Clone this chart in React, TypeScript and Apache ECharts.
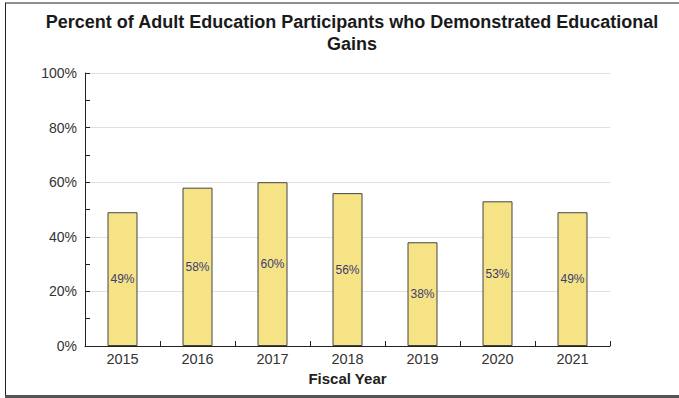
import React, { useEffect, useRef } from "react";
import * as echarts from "echarts";

const years = ["2015", "2016", "2017", "2018", "2019", "2020", "2021"];
const percents = [49, 58, 60, 56, 38, 53, 49];
const yTicks = [0, 20, 40, 60, 80, 100];

export default function App() {
  const ref = useRef<HTMLDivElement>(null);
  useEffect(() => {
    document.body.style.margin = "0";
    const chart = echarts.init(ref.current!, null, { renderer: "svg" });
    const font = "'Liberation Sans', Arial, sans-serif";
    chart.setOption({
      animation: false,
      backgroundColor: "#fff",
      title: {
        text: "Percent of Adult Education Participants who Demonstrated Educational\nGains",
        left: 347,
        textAlign: "center",
        top: 6,
        textStyle: { fontFamily: font, fontSize: 18, fontWeight: "bold", color: "#1a1a1a", lineHeight: 22 },
      },
      graphic: [
        { type: "line", shape: { x1: 5, y1: 3, x2: 679, y2: 3 }, style: { stroke: "#222", lineWidth: 1 } },
        { type: "line", shape: { x1: 5.5, y1: 3, x2: 5.5, y2: 397 }, style: { stroke: "#222", lineWidth: 1 } },
        { type: "line", shape: { x1: 5, y1: 396.5, x2: 679, y2: 396.5 }, style: { stroke: "#555", lineWidth: 3 } },
      ],
      grid: { left: 85, right: 69, top: 73, bottom: 52 },
      xAxis: {
        type: "category",
        data: years,
        name: "Fiscal Year",
        nameLocation: "middle",
        nameGap: 25,
        nameTextStyle: { fontFamily: font, fontSize: 15, fontWeight: "bold", color: "#222" },
        axisLine: { lineStyle: { color: "#222", width: 1 } },
        axisTick: { show: true, inside: true, length: 5, lineStyle: { color: "#222" } },
        axisLabel: { fontFamily: font, fontSize: 14.5, color: "#333", margin: 5 },
      },
      yAxis: {
        type: "value",
        min: 0,
        max: 100,
        interval: 20,
        axisLine: { show: true, lineStyle: { color: "#222", width: 1 } },
        axisTick: { show: true, inside: true, length: 5, lineStyle: { color: "#222" } },
        minorTick: { show: true, splitNumber: 2, length: 5, lineStyle: { color: "#222" } },
        splitLine: { show: true, lineStyle: { color: "#e0e0e0", width: 1 } },
        axisLabel: {
          fontFamily: font,
          fontSize: 14,
          color: "#333",
          margin: 8,
          formatter: (v: number) => (yTicks.includes(v) ? v + "%" : ""),
        },
      },
      series: [
        {
          type: "bar",
          data: percents,
          barWidth: "40%",
          itemStyle: { color: "#f5e386", borderColor: "#444", borderWidth: 1 },
          label: {
            show: true,
            position: "inside",
            formatter: (p: any) => p.value + "%",
            fontFamily: font,
            fontSize: 12,
            color: "#3c3c70",
          },
        },
      ],
    });
    return () => chart.dispose();
  }, []);
  return <div ref={ref} style={{ width: 679, height: 398 }} />;
}
